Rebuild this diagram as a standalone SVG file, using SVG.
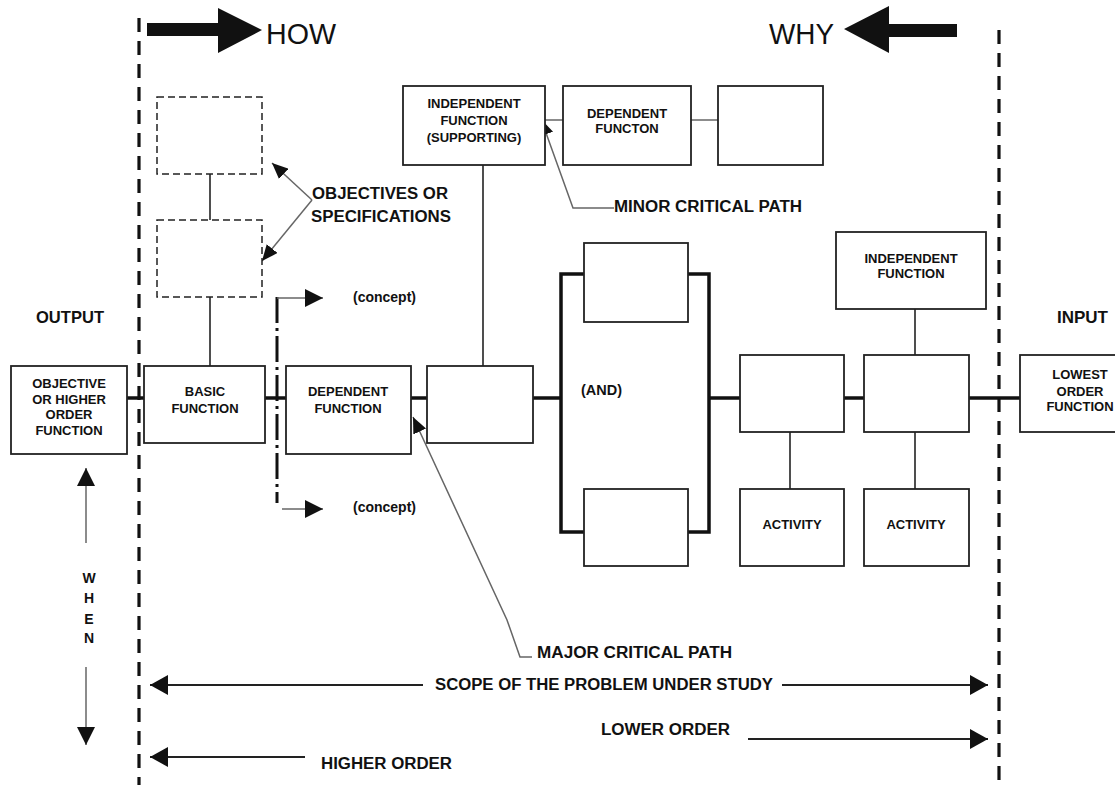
<svg xmlns="http://www.w3.org/2000/svg" width="1115" height="785" viewBox="0 0 1115 785">
<style>
text{font-family:"Liberation Sans",Arial,sans-serif;fill:#111}
.s{font-size:13px;font-weight:bold;text-anchor:middle}
.m{font-size:16px;font-weight:bold}
.o{font-size:17px;font-weight:bold}
.c{font-size:14px;font-weight:bold}
.h{font-size:30px;font-weight:normal}
.box{fill:#fff;stroke:#222;stroke-width:1.8}
.dbox{fill:#fff;stroke:#222;stroke-width:1.5;stroke-dasharray:7 4}
.main{stroke:#111;stroke-width:3.5;fill:none}
.thin{stroke:#222;stroke-width:1.6;fill:none}
.gray{stroke:#666;stroke-width:1.5;fill:none}
.scope{stroke:#222;stroke-width:2;fill:none}
.bound{stroke:#111;stroke-width:3.2;stroke-dasharray:14 9;fill:none}
.dd{stroke:#111;stroke-width:3;stroke-dasharray:26 5 3 5;fill:none}
</style>
<defs>
<marker id="big" viewBox="0 0 18 20" refX="18" refY="10" markerWidth="18" markerHeight="20" markerUnits="userSpaceOnUse" orient="auto"><path d="M0,0 L18,10 L0,20 z" fill="#111"/></marker>
<marker id="mid" viewBox="0 0 18 18" refX="18" refY="9" markerWidth="18" markerHeight="18" markerUnits="userSpaceOnUse" orient="auto"><path d="M0,0 L18,9 L0,18 z" fill="#111"/></marker>
<marker id="sm" viewBox="0 0 16 14" refX="16" refY="7" markerWidth="16" markerHeight="14" markerUnits="userSpaceOnUse" orient="auto"><path d="M0,0 L16,7 L0,14 z" fill="#111"/></marker>
</defs>

<!-- boundaries -->
<g id="boundaries">
<line class="bound" x1="139" y1="18" x2="139" y2="785"/>
<line class="bound" x1="999" y1="30" x2="999" y2="785"/>
</g>

<!-- HOW / WHY -->
<g id="how">
<polygon points="147,23 218,23 218,8 262,30 218,53 218,36 147,36" fill="#111"/>
<text class="h" x="266" y="44" textLength="70" lengthAdjust="spacingAndGlyphs">HOW</text>
</g>
<g id="why">
<polygon points="957,24 889,24 889,6 844,29 889,53 889,37 957,37" fill="#111"/>
<text class="h" x="769" y="44" textLength="65" lengthAdjust="spacingAndGlyphs">WHY</text>
</g>

<!-- connectors -->
<g id="connectors">
<!-- main critical path -->
<line class="main" x1="127" y1="398" x2="144" y2="398"/>
<line class="main" x1="265" y1="398" x2="286" y2="398"/>
<line class="main" x1="411" y1="398" x2="427" y2="398"/>
<line class="main" x1="533" y1="398" x2="561" y2="398"/>
<line class="main" x1="709" y1="398" x2="740" y2="398"/>
<line class="main" x1="844" y1="398" x2="864" y2="398"/>
<line class="main" x1="969" y1="398" x2="1020" y2="398"/>
<!-- AND bracket -->
<polyline class="main" points="584,274 561,274 561,532 584,532"/>
<polyline class="main" points="688,274 709,274 709,532 688,532"/>
<!-- verticals -->
<line class="thin" x1="210" y1="174" x2="210" y2="220"/>
<line class="thin" x1="210" y1="297" x2="210" y2="366"/>
<line class="thin" x1="483" y1="165" x2="483" y2="366"/>
<line class="thin" x1="915" y1="309" x2="915" y2="355"/>
<line class="thin" x1="790" y1="432" x2="790" y2="489"/>
<line class="thin" x1="915" y1="432" x2="915" y2="489"/>
<!-- top row -->
<line class="gray" x1="545" y1="120" x2="563" y2="120"/>
<line class="gray" x1="691" y1="120" x2="718" y2="120"/>
<!-- concept dash-dot -->
<line class="dd" x1="277" y1="297" x2="277" y2="503"/>
<line class="gray" x1="277" y1="298" x2="323" y2="298" marker-end="url(#mid)"/>
<line class="gray" x1="282" y1="509" x2="323" y2="509" marker-end="url(#mid)"/>
<!-- objectives arrows -->
<line class="gray" x1="312" y1="200" x2="272" y2="163" marker-end="url(#sm)"/>
<line class="gray" x1="312" y1="200" x2="262" y2="261" marker-end="url(#sm)"/>
<!-- minor critical path -->
<polyline class="gray" points="614,208 573,208 541,119" marker-end="url(#sm)"/>
<!-- major critical path -->
<polyline class="gray" points="532,657 520,657 507,620 413,417" marker-end="url(#sm)"/>
<!-- WHEN arrows -->
<line class="gray" x1="86" y1="543" x2="86" y2="468" marker-end="url(#mid)"/>
<line class="gray" x1="86" y1="667" x2="86" y2="745" marker-end="url(#mid)"/>
<!-- scope arrows -->
<line class="scope" x1="423" y1="685" x2="150" y2="685" marker-end="url(#big)"/>
<line class="scope" x1="782" y1="685" x2="988" y2="685" marker-end="url(#big)"/>
<line class="scope" x1="305" y1="757" x2="150" y2="757" marker-end="url(#big)"/>
<line class="scope" x1="748" y1="739" x2="988" y2="739" marker-end="url(#big)"/>
</g>

<!-- nodes -->
<g id="objective-higher">
<rect class="box" x="11" y="366" width="116" height="88"/>
<text class="s" x="69" y="388">OBJECTIVE</text>
<text class="s" x="69" y="404">OR HIGHER</text>
<text class="s" x="69" y="419">ORDER</text>
<text class="s" x="69" y="435">FUNCTION</text>
</g>
<g id="spec1"><rect class="dbox" x="157" y="97" width="105" height="77"/></g>
<g id="spec2"><rect class="dbox" x="157" y="220" width="105" height="77"/></g>
<g id="basic-function">
<rect class="box" x="144" y="366" width="121" height="77"/>
<text class="s" x="205" y="396">BASIC</text>
<text class="s" x="205" y="413">FUNCTION</text>
</g>
<g id="dependent-function">
<rect class="box" x="286" y="366" width="125" height="88"/>
<text class="s" x="348" y="396">DEPENDENT</text>
<text class="s" x="348" y="413">FUNCTION</text>
</g>
<g id="box-main3"><rect class="box" x="427" y="366" width="106" height="77"/></g>
<g id="independent-supporting">
<rect class="box" x="403" y="86" width="142" height="79"/>
<text class="s" x="474" y="108">INDEPENDENT</text>
<text class="s" x="474" y="125">FUNCTION</text>
<text class="s" x="474" y="142">(SUPPORTING)</text>
</g>
<g id="dependent-top">
<rect class="box" x="563" y="86" width="128" height="79"/>
<text class="s" x="627" y="118">DEPENDENT</text>
<text class="s" x="627" y="133">FUNCTON</text>
</g>
<g id="box-top3"><rect class="box" x="718" y="86" width="105" height="79"/></g>
<g id="and-top"><rect class="box" x="584" y="243" width="104" height="79"/></g>
<g id="and-bottom"><rect class="box" x="584" y="489" width="104" height="77"/></g>
<g id="box-mid1"><rect class="box" x="740" y="355" width="104" height="77"/></g>
<g id="box-mid2"><rect class="box" x="864" y="355" width="105" height="77"/></g>
<g id="independent-right">
<rect class="box" x="836" y="232" width="150" height="77"/>
<text class="s" x="911" y="263">INDEPENDENT</text>
<text class="s" x="911" y="278">FUNCTION</text>
</g>
<g id="activity1">
<rect class="box" x="740" y="489" width="104" height="77"/>
<text class="s" x="792" y="529">ACTIVITY</text>
</g>
<g id="activity2">
<rect class="box" x="864" y="489" width="105" height="77"/>
<text class="s" x="916" y="529">ACTIVITY</text>
</g>
<g id="lowest-order">
<rect class="box" x="1020" y="355" width="110" height="77"/>
<text class="s" x="1080" y="379">LOWEST</text>
<text class="s" x="1080" y="396">ORDER</text>
<text class="s" x="1080" y="411">FUNCTION</text>
</g>

<!-- labels -->
<g id="labels">
<text class="o" x="36" y="323" textLength="68" lengthAdjust="spacingAndGlyphs">OUTPUT</text>
<text class="o" x="1057" y="323" textLength="51" lengthAdjust="spacingAndGlyphs">INPUT</text>
<text class="m" x="312" y="199" textLength="136" lengthAdjust="spacingAndGlyphs">OBJECTIVES OR</text>
<text class="m" x="311" y="222" textLength="140" lengthAdjust="spacingAndGlyphs">SPECIFICATIONS</text>
<text class="c" x="353" y="302" textLength="63" lengthAdjust="spacingAndGlyphs">(concept)</text>
<text class="c" x="353" y="512" textLength="63" lengthAdjust="spacingAndGlyphs">(concept)</text>
<text class="c" x="581" y="395" textLength="41" lengthAdjust="spacingAndGlyphs">(AND)</text>
<text class="m" x="614" y="212" textLength="188" lengthAdjust="spacingAndGlyphs">MINOR CRITICAL PATH</text>
<text class="m" x="537" y="658" textLength="195" lengthAdjust="spacingAndGlyphs">MAJOR CRITICAL PATH</text>
<text class="m" x="435" y="690" textLength="338" lengthAdjust="spacingAndGlyphs">SCOPE OF THE PROBLEM UNDER STUDY</text>
<text class="m" x="601" y="735" textLength="129" lengthAdjust="spacingAndGlyphs">LOWER ORDER</text>
<text class="m" x="321" y="769" textLength="131" lengthAdjust="spacingAndGlyphs">HIGHER ORDER</text>
<text class="c" x="89" y="583" text-anchor="middle">W</text>
<text class="c" x="89" y="603" text-anchor="middle">H</text>
<text class="c" x="89" y="624" text-anchor="middle">E</text>
<text class="c" x="89" y="643" text-anchor="middle">N</text>
</g>
</svg>
